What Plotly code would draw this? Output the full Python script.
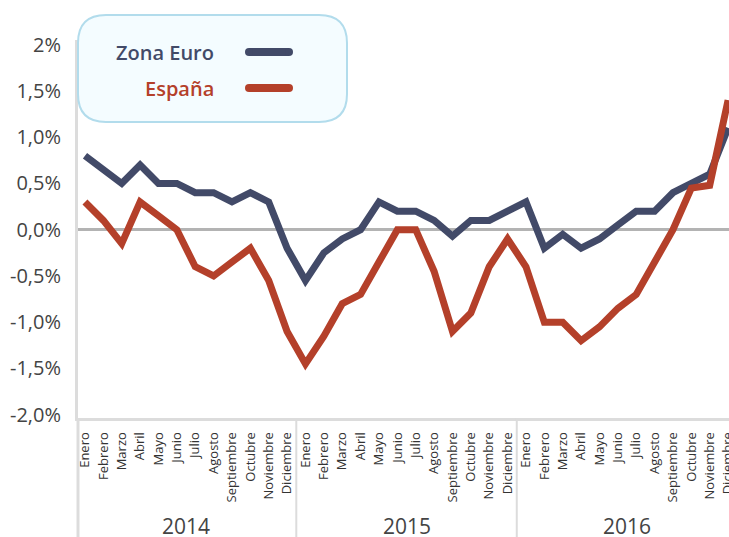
import plotly.graph_objects as go

# ---------------- data ----------------
years = ["2014", "2015", "2016"]
months = ["Enero", "Febrero", "Marzo", "Abril", "Mayo", "Junio", "Julio",
          "Agosto", "Septiembre", "Octubre", "Noviembre", "Diciembre"]

zona_euro = [0.8, 0.65, 0.5, 0.7, 0.5, 0.5, 0.4, 0.4, 0.3, 0.4, 0.3, -0.2,
             -0.55, -0.25, -0.1, 0.0, 0.3, 0.2, 0.2, 0.1, -0.07, 0.1, 0.1, 0.2,
             0.3, -0.2, -0.05, -0.2, -0.1, 0.05, 0.2, 0.2, 0.4, 0.5, 0.6, 1.1]
espana = [0.3, 0.1, -0.15, 0.3, 0.15, 0.0, -0.4, -0.5, -0.35, -0.2, -0.55, -1.1,
          -1.45, -1.15, -0.8, -0.7, -0.35, 0.0, 0.0, -0.45, -1.1, -0.9, -0.4, -0.1,
          -0.4, -1.0, -1.0, -1.2, -1.05, -0.85, -0.7, -0.35, 0.0, 0.45, 0.48, 1.4]

y_tickvals = [-2, -1.5, -1, -0.5, 0, 0.5, 1, 1.5, 2]
y_ticktext = ["-2,0%", "-1,5%", "-1,0%", "-0,5%", "0,0%", "0,5%", "1,0%", "1,5%", "2%"]

series_names = ["Zona Euro", "España"]
series_colors = ["#424a68", "#b4402a"]

# ---------------- figure ----------------
W, H = 729, 537
PLOT_L, PLOT_T, PLOT_B = 78, 40, 418
ML, MR, MT, MB = PLOT_L, 0, PLOT_T, H - PLOT_B
PW, PH = W - ML - MR, H - MT - MB

n = len(zona_euro)
x = list(range(n))
month_labels = months * len(years)

fig = go.Figure()
for name, vals, col in zip(series_names, [zona_euro, espana], series_colors):
    fig.add_trace(go.Scatter(x=x, y=vals, mode="lines", name=name,
                             line=dict(color=col, width=7), showlegend=False))

FONT = "Open Sans"
fig.update_layout(
    width=W, height=H,
    margin=dict(l=ML, r=MR, t=MT, b=MB, pad=0),
    paper_bgcolor="white", plot_bgcolor="white",
    font=dict(family=FONT, color="#444"),
    xaxis=dict(range=[-0.38, n - 1 + 0.05], tickmode="array", tickvals=x,
               ticktext=month_labels, tickangle=-90, automargin=False,
               tickfont=dict(size=13, color="#333", family=FONT),
               showgrid=False, zeroline=False, showline=True,
               linecolor="#dcdcdc", linewidth=3, ticks="", ticklabelstandoff=6,
               ticklabeloverflow="allow"),
    yaxis=dict(range=[-2.035, 2.05], tickmode="array", tickvals=y_tickvals,
               ticktext=y_ticktext, tickfont=dict(size=20, color="#444", family=FONT),
               automargin=False,
               showgrid=False, zeroline=True, zerolinecolor="#b3b3b3",
               zerolinewidth=3, showline=True, linecolor="#dcdcdc", linewidth=3,
               ticks="", ticklabelstandoff=10),
)

def px_x(p):
    return (p - PLOT_L) / PW

def px_y(p):
    return (PLOT_B - p) / PH

bottom = px_y(H + 2)

# year separators and year labels
for k, yr in enumerate(years):
    center = k * len(months) + (len(months) - 1) / 2
    fig.add_annotation(x=center, y=px_y(526), xref="x", yref="paper", text=yr,
                       showarrow=False, font=dict(size=21, color="#444", family=FONT),
                       yanchor="middle")
    if k > 0:
        sep = k * len(months) - 0.5
        fig.add_shape(type="line", xref="x", yref="paper", x0=sep, x1=sep,
                      y0=0, y1=bottom, line=dict(color="#dcdcdc", width=2))
fig.add_shape(type="line", xref="paper", yref="paper", x0=0, x1=0,
              y0=0, y1=bottom, line=dict(color="#dcdcdc", width=3))

# legend box with rounded corners
L, R, T, B, r = 78, 347, 15, 122, 28
xl, xr = px_x(L), px_x(R)
yt, yb = px_y(T), px_y(B)
rx, ry = r / PW, r / PH
path = (f"M {xl+rx},{yt} L {xr-rx},{yt} Q {xr},{yt} {xr},{yt-ry} "
        f"L {xr},{yb+ry} Q {xr},{yb} {xr-rx},{yb} L {xl+rx},{yb} "
        f"Q {xl},{yb} {xl},{yb+ry} L {xl},{yt-ry} Q {xl},{yt} {xl+rx},{yt} Z")
fig.add_shape(type="path", xref="paper", yref="paper", path=path,
              fillcolor="#f4fcff", line=dict(color="#b2dcec", width=2), layer="above")

legend_y = [52, 88]
for name, col, ly in zip(series_names, series_colors, legend_y):
    fig.add_annotation(x=px_x(216), y=px_y(ly), xref="paper", yref="paper",
                       text=name, showarrow=False, xanchor="right", yanchor="middle",
                       font=dict(size=20, color=col, family=FONT, weight=600))
    fig.add_shape(type="line", xref="paper", yref="paper", x0=px_x(249), x1=px_x(289),
                  y0=px_y(ly), y1=px_y(ly), line=dict(color=col, width=8), layer="above")
    for cx in (249, 289):
        fig.add_shape(type="circle", xref="paper", yref="paper",
                      xsizemode="pixel", ysizemode="pixel",
                      xanchor=px_x(cx), yanchor=px_y(ly),
                      x0=-4, x1=4, y0=-4, y1=4,
                      fillcolor=col, line=dict(width=0), layer="above")

fig.write_html("out.html",
               config={"displayModeBar": False},
               post_script="document.body.style.margin='0';"
                           "document.body.style.overflow='hidden';")
